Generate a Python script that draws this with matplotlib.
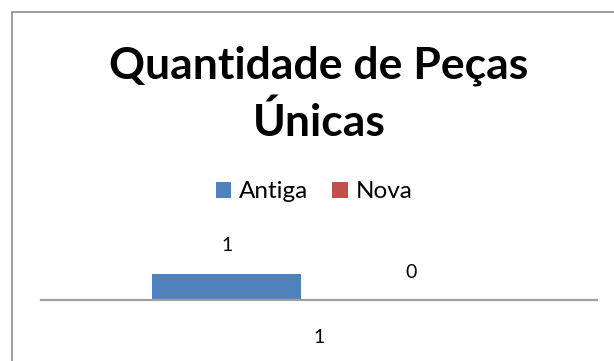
import numpy as np
import matplotlib
matplotlib.use("Agg")
import matplotlib.pyplot as plt
from matplotlib.patches import Rectangle

# dados do gráfico
categorias = ["1"]
series = ["Antiga", "Nova"]
antiga = [1]
nova = [0]
cores = ["#4F81BD", "#C0504D"]

plt.rcParams['font.family'] = ['Lato', 'DejaVu Sans']

fig = plt.figure(figsize=(6.14, 3.61), dpi=100)
W, H = 614, 361

# moldura do gráfico (só esquerda e topo aparecem)
fig.patches.append(Rectangle((11.5 / W, -0.2), 2.0, (361 - 11.5) / H + 0.2,
                             transform=fig.transFigure, fill=False,
                             edgecolor="#8c8c8c", linewidth=1.2))

# área de plotagem
ax = fig.add_axes([41 / W, (H - 300) / H, 556 / W, 80 / H])
x = np.arange(len(categorias))
largura = 0.268
desloc = 0.1655

b1 = ax.bar(x - desloc, antiga, largura, color=cores[0], label=series[0])
b2 = ax.bar(x + desloc, nova, largura, color=cores[1], label=series[1])
ax.bar_label(b1, padding=14, fontsize=14)
ax.bar_label(b2, padding=14, fontsize=14)

ax.set_xlim(-0.5, 0.5)
ax.set_ylim(0, 80 / 26.5)
ax.set_xticks(x)
ax.set_xticklabels(categorias, fontsize=14)
ax.tick_params(axis='x', length=0, pad=21)
ax.set_yticks([])
for lado in ["left", "right", "top"]:
    ax.spines[lado].set_visible(False)
ax.spines["bottom"].set_color("#a0a0a0")
ax.spines["bottom"].set_linewidth(1.6)
ax.patch.set_alpha(0)

# título em duas linhas
fig.text(319 / W, 1 - 78 / H, "Quantidade de Peças", ha="center",
         va="baseline", fontsize=32, fontweight="bold")
fig.text(319 / W, 1 - 136 / H, "Únicas", ha="center",
         va="baseline", fontsize=32, fontweight="bold")

fig.legend(handles=[b1, b2], labels=series, loc="center",
           bbox_to_anchor=(314 / W, 1 - 192 / H), ncol=2, frameon=False,
           fontsize=17.5, handlelength=0.65, handleheight=0.65,
           handletextpad=0.3, columnspacing=1.0, borderpad=0)

fig.savefig("out.png", dpi=100)
